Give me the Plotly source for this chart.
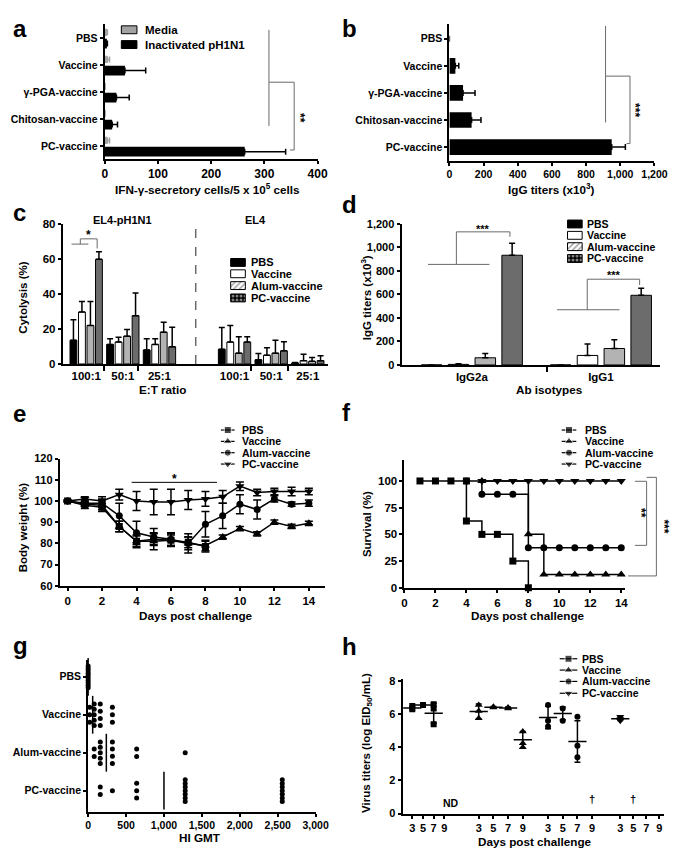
import plotly.graph_objects as go

# The page puts the figure 8 px in from the top-left corner, so every pixel
# position below is given in window pixels and converted with OFF.
OFF = 8
WIN_W, WIN_H = 685, 856
W, H = WIN_W - OFF, WIN_H - OFF
FONT = "Liberation Sans, Arial, sans-serif"
GREY = "#6a6a6a"

# ---------------- data ----------------
# a: IFN-gamma secreting cells
a_groups = ["PBS", "Vaccine", "γ-PGA-vaccine", "Chitosan-vaccine", "PC-vaccine"]
a_media = [4, 5, 0.5, 0.5, 5]
a_media_sd = [1, 4, 0, 0, 4]
a_inact = [4, 38, 22, 14, 263]
a_inact_sd = [1, 39, 24, 10, 77]

# b: IgG titers (x10^3)
b_igg = [0, 35, 80, 130, 950]
b_igg_sd = [0, 20, 70, 55, 80]

# c: cytolysis (%)
c_ratios = ["100:1", "50:1", "25:1", "100:1", "50:1", "25:1"]
c_pbs = [13.6, 11.2, 8.0, 8.4, 2.4, 0.6]
c_pbs_sd = [11.7, 3.2, 6.4, 12.5, 3.6, 0.3]
c_vac = [29.7, 12.5, 11.2, 12.5, 5.0, 1.9]
c_vac_sd = [6.0, 2.8, 3.2, 9.5, 4.3, 3.7]
c_alum = [22.0, 15.9, 18.2, 6.2, 6.2, 1.5]
c_alum_sd = [13.7, 3.8, 5.6, 9.3, 7.3, 2.2]
c_pc = [59.8, 27.6, 9.8, 12.5, 7.5, 1.9]
c_pc_sd = [4.3, 12.9, 11.2, 3.0, 5.2, 2.8]

# d: IgG isotypes (x10^3)
d_isotypes = ["IgG2a", "IgG1"]
d_pbs = [0, 0]
d_pbs_sd = [0, 0]
d_vac = [5, 81]
d_vac_sd = [6, 98]
d_alum = [61, 140]
d_alum_sd = [37, 75]
d_pc = [934, 593]
d_pc_sd = [101, 61]

# e: body weight (%)
e_days = list(range(15))
e_pbs = [100, 98, 97, 88, 81, 82, 81.5, 80.5, 78.5]
e_pbs_sd = [0, 1.5, 2, 2.5, 2.5, 2.5, 2.5, 2.5, 2.5]
e_vac = [100, 98.5, 98, 88, 81, 81, 81.5, 80, 79, 83, 87, 84.5, 90, 88, 89.5]
e_vac_sd = [0, 1, 2, 2.5, 3, 4, 3, 3, 2.5, 1, 1, 1, 1, 1, 1]
e_alum = [100, 99, 99, 93, 85, 83, 82, 80, 89, 93, 98.5, 96, 101, 98.5, 99]
e_alum_sd = [0, 1.5, 2, 6, 5.5, 4, 3, 4.5, 6, 6, 4.5, 4.5, 1.5, 1, 1.5]
e_pc = [100, 101, 100, 103, 100, 99.5, 99.5, 100.5, 101, 102, 107, 104, 104.5, 104.5, 104.5]
e_pc_sd = [0, 1, 2, 2.5, 4.5, 6, 6, 4.5, 3.5, 3, 2, 1.5, 1.5, 2, 1.5]

# f: survival (%)
f_pbs_days = [1, 2, 3, 4, 4, 5, 6, 7, 8]
f_pbs = [100, 100, 100, 100, 62.5, 50, 50, 25, 0]
f_vac_days = [5, 8, 9, 10, 11, 12, 13, 14]
f_vac = [100, 50, 12.5, 12.5, 12.5, 12.5, 12.5, 12.5]
f_alum_days = [4, 5, 6, 7, 8, 9, 10, 11, 12, 13, 14]
f_alum = [100, 87.5, 87.5, 87.5, 37.5, 37.5, 37.5, 37.5, 37.5, 37.5, 37.5]
f_pc_days = [5, 6, 7, 8, 9, 10, 11, 12, 13, 14]
f_pc = [100] * 10

# g: HI titers
g_groups = ["PBS", "Vaccine", "Alum-vaccine", "PC-vaccine"]
g_pbs = [0] * 10
g_vac = [20, 20, 20, 80, 80, 80, 80, 80, 160, 160, 160, 160, 320, 320, 320]
g_alum = [80, 80, 160, 160, 160, 160, 160, 320, 320, 320, 320, 640, 640, 1280]
g_pc = [160, 160, 320, 640, 640, 640] + [1280] * 7 + [2560] * 7
g_gmt = [0, 60, 240, 1000]

# h: lung virus titers (log EID50/mL)
h_days = [3, 5, 7, 9]
h_pbs_day = [3, 3, 5, 7, 7, 7]
h_pbs = [6.5, 6.3, 6.55, 6.6, 6.35, 5.4]
h_pbs_mday = [3, 5, 7]
h_pbs_mean = [6.38, 6.55, 6.06]
h_pbs_sd = [0.12, 0.02, 0.6]
h_vac_day = [3, 3, 3, 5, 5, 7, 7, 9, 9, 9]
h_vac = [6.55, 6.2, 5.75, 6.45, 6.4, 6.4, 6.35, 4.95, 4.25, 4.0]
h_vac_mday = [3, 5, 7, 9]
h_vac_mean = [6.16, 6.42, 6.38, 4.45]
h_vac_sd = [0.45, 0.05, 0.05, 0.5]
h_alum_day = [3, 3, 3, 5, 5, 7, 7, 7]
h_alum = [6.55, 5.6, 5.25, 6.35, 5.6, 5.85, 4.1, 3.4]
h_alum_mday = [3, 5, 7]
h_alum_mean = [5.8, 6.05, 4.35]
h_alum_sd = [0.68, 0.38, 1.25]
h_pc_day = [3, 3, 3]
h_pc = [5.85, 5.7, 5.6]
h_pc_mday = [3]
h_pc_mean = [5.72]
h_pc_sd = [0.1]

# ---------------- layout helpers ----------------
def xdom(x0, x1):
    return [(x0 - OFF) / W, (x1 - OFF) / W]


def ydom(top, bottom):
    return [1 - (bottom - OFF) / H, 1 - (top - OFF) / H]


def font(size):
    return dict(family=FONT, size=size, color="black", weight="bold")


def axis(size=10.5, **kw):
    d = dict(showline=True, linewidth=2, linecolor="black", ticks="outside",
             ticklen=3, tickwidth=2, tickcolor="black", showgrid=False,
             zeroline=False, tickfont=font(size), fixedrange=True)
    d.update(kw)
    return d


fig = go.Figure()
shapes = []
annots = []


def seg(ax, x0, y0, x1, y1, color=GREY, width=1, dash=None):
    shapes.append(dict(type="line", xref="x" + ax, yref="y" + ax, x0=x0, y0=y0,
                       x1=x1, y1=y1, line=dict(color=color, width=width, dash=dash)))


def note(ax, x, y, text, size=11.7, angle=0, **kw):
    annots.append(dict(xref="x" + ax, yref="y" + ax, x=x, y=y, text=text,
                       showarrow=False, font=font(size), textangle=angle, **kw))


def err(arr, color="black"):
    return dict(type="data", array=arr, arrayminus=[0] * len(arr), symmetric=False,
                color=color, thickness=1.5, width=3)


# ---------------- a ----------------
a_pos = list(range(len(a_groups)))
fig.add_trace(go.Bar(x=a_media, y=a_pos, orientation="h", offset=-0.34, width=0.27,
                     marker=dict(color="#a3a3a3", line=dict(width=0)),
                     error_x=err(a_media_sd, "#a3a3a3"), xaxis="x", yaxis="y"))
fig.add_trace(go.Bar(x=a_inact, y=a_pos, orientation="h", offset=0.03, width=0.36,
                     marker=dict(color="black", line=dict(width=0)),
                     error_x=err(a_inact_sd), xaxis="x", yaxis="y"))
seg("", 308.6, -0.3, 308.6, 3.26)
seg("", 308.6, 1.64, 356, 1.64)
seg("", 356, 1.64, 356, 4.15)
seg("", 348, 4.15, 356, 4.15)
note("", 368, 2.95, "**", size=12, angle=90)

# ---------------- b ----------------
fig.add_trace(go.Bar(x=b_igg, y=a_pos, orientation="h", offset=-0.29, width=0.58,
                     marker=dict(color="black", line=dict(width=0)),
                     error_x=err(b_igg_sd), xaxis="x2", yaxis="y2"))
seg("2", 914, -0.47, 914, 3.09)
seg("2", 914, 1.38, 1057, 1.38)
seg("2", 1057, 1.38, 1057, 3.87)
seg("2", 1037, 3.87, 1057, 3.87)
note("2", 1090, 2.62, "***", size=12, angle=90)

# ---------------- c ----------------
c_pos = [0, 1, 2, 4.05, 5.05, 6.05]
c_pitch, c_w = 0.232, 0.187
c_sets = [(c_pbs, c_pbs_sd, "black"), (c_vac, c_vac_sd, "white"),
          (c_alum, c_alum_sd, "#b3b3b3"), (c_pc, c_pc_sd, "#6c6c6c")]
for k, (vals, sd, col) in enumerate(c_sets):
    fig.add_trace(go.Bar(x=c_pos, y=vals, offset=(k - 2) * c_pitch + (c_pitch - c_w) / 2,
                         width=c_w, marker=dict(color=col, line=dict(color="black", width=1)),
                         error_y=err(sd), xaxis="x3", yaxis="y3"))
seg("3", 2.99, 0, 2.99, 80, dash="dash", width=1.5)
seg("3", -0.4, 68.5, 0.06, 68.5)
seg("3", -0.16, 68.5, -0.16, 71.5)
seg("3", -0.16, 71.5, 0.3, 71.5)
seg("3", 0.3, 71.5, 0.3, 66)
note("3", 0.06, 73.5, "*", size=12)
note("3", 1.0, 80, "EL4-pH1N1", size=11, yshift=4)
note("3", 4.62, 80, "EL4", size=11, yshift=4)

# ---------------- d ----------------
d_pos = [0, 1]
d_pitch, d_w = 0.208, 0.159
d_sets = [(d_pbs, d_pbs_sd, "black"), (d_vac, d_vac_sd, "white"),
          (d_alum, d_alum_sd, "#b3b3b3"), (d_pc, d_pc_sd, "#6c6c6c")]
for k, (vals, sd, col) in enumerate(d_sets):
    fig.add_trace(go.Bar(x=d_pos, y=vals, offset=(k - 2) * d_pitch + (d_pitch - d_w) / 2,
                         width=d_w, marker=dict(color=col, line=dict(color="black", width=1)),
                         error_y=err(sd), xaxis="x4", yaxis="y4"))
seg("4", -0.34, 856, 0.136, 856)
seg("4", -0.12, 856, -0.12, 1133)
seg("4", -0.12, 1133, 0.295, 1133)
seg("4", 0.295, 1133, 0.295, 1091)
note("4", 0.09, 1160, "***", size=11)
seg("4", 0.66, 470, 1.144, 470)
seg("4", 0.894, 470, 0.894, 730)
seg("4", 0.894, 730, 1.30, 730)
seg("4", 1.30, 730, 1.30, 680)
note("4", 1.10, 766, "***", size=11)

# ---------------- e ----------------
e_sets = [(e_pbs, e_pbs_sd, "square", 7), (e_vac, e_vac_sd, "triangle-up", 8),
          (e_alum, e_alum_sd, "circle", 7), (e_pc, e_pc_sd, "triangle-down", 8)]
for vals, sd, sym, sz in e_sets:
    fig.add_trace(go.Scatter(x=e_days[:len(vals)], y=vals, mode="lines+markers",
                             line=dict(color="black", width=1.5),
                             marker=dict(symbol=sym, size=sz, color="black"),
                             error_y=dict(type="data", array=sd, color="black",
                                          thickness=1.5, width=4),
                             xaxis="x5", yaxis="y5"))
seg("5", 3.72, 108.8, 8.67, 108.8, color="black")
note("5", 6.18, 110.5, "*", size=12)

# ---------------- f ----------------
f_sets = [(f_pc_days, f_pc, "triangle-down", 8), (f_alum_days, f_alum, "circle", 7),
          (f_vac_days, f_vac, "triangle-up", 8), (f_pbs_days, f_pbs, "square", 7)]
for days, vals, sym, sz in f_sets:
    fig.add_trace(go.Scatter(x=days, y=vals, mode="lines+markers",
                             line=dict(color="black", width=1.5, shape="hv"),
                             marker=dict(symbol=sym, size=sz, color="black"),
                             cliponaxis=False, xaxis="x6", yaxis="y6"))

# ---------------- g ----------------
def stack(vals, center):
    xs, ys = [], []
    for v in sorted(set(vals)):
        n = vals.count(v)
        step = min(0.195, 0.571 / (n - 1)) if n > 1 else 0
        for i in range(n):
            xs.append(v)
            ys.append(center + (i - (n - 1) / 2) * step)
    return xs, ys


for i, vals in enumerate([g_pbs, g_vac, g_alum, g_pc]):
    xs, ys = stack(vals, i)
    fig.add_trace(go.Scatter(x=xs, y=ys, mode="markers", cliponaxis=False,
                             marker=dict(symbol="circle", size=5, color="black"),
                             xaxis="x7", yaxis="y7"))
fig.add_trace(go.Scatter(x=g_gmt, y=list(range(4)), mode="markers", cliponaxis=False,
                         marker=dict(symbol="line-ns", size=27,
                                     line=dict(color="black", width=1.5)),
                         xaxis="x7", yaxis="y7"))

# ---------------- h ----------------
h_start = [0, 4.84, 9.89, 15.15]
h_step = [0.78, 1.07, 1.07, 0.95]


def hx(g, days):
    return [h_start[g] + (d - 3) / 2 * h_step[g] for d in days]


h_sets = [(h_pbs_day, h_pbs, h_pbs_mday, h_pbs_mean, h_pbs_sd, "square", 6),
          (h_vac_day, h_vac, h_vac_mday, h_vac_mean, h_vac_sd, "triangle-up", 7),
          (h_alum_day, h_alum, h_alum_mday, h_alum_mean, h_alum_sd, "circle", 6),
          (h_pc_day, h_pc, h_pc_mday, h_pc_mean, h_pc_sd, "triangle-down", 7)]
for g, (pd_, pv, md, mv, sd, sym, sz) in enumerate(h_sets):
    fig.add_trace(go.Scatter(x=hx(g, pd_), y=pv, mode="markers",
                             marker=dict(symbol=sym, size=sz, color="black"),
                             xaxis="x8", yaxis="y8"))
    fig.add_trace(go.Scatter(x=hx(g, md), y=mv, mode="markers",
                             marker=dict(symbol="line-ew", size=13,
                                         line=dict(color="black", width=1.5)),
                             error_y=dict(type="data", array=sd, color="black",
                                          thickness=1.5, width=3),
                             xaxis="x8", yaxis="y8"))
h_ticks = [x for g in range(4) for x in hx(g, h_days)]
h_ticktext = [str(d) for g in range(4) for d in h_days]
note("8", hx(0, [9])[0] + 0.45, 0.62, "ND", size=10.5)
note("8", hx(2, [9])[0], 0.85, "†", size=11)
note("8", hx(3, [5])[0], 0.85, "†", size=11)

# ---------------- legends and labels (window-pixel canvas) ----------------
def canvas_text(x, y, text, size, angle=0, anchor="left"):
    annots.append(dict(xref="x9", yref="y9", x=x, y=y, text=text, showarrow=False,
                       font=font(size), textangle=angle, xanchor=anchor,
                       yanchor="middle"))


def bar_key(x0, length, y, color, pattern=None):
    m = dict(color=color, line=dict(color="black", width=1))
    if pattern:
        m["pattern"] = pattern
    fig.add_trace(go.Bar(x=[length], y=[y], base=[x0], orientation="h", width=8,
                         offset=-4, marker=m, xaxis="x9", yaxis="y9"))


def line_key(x0, x1, y, sym, sz):
    fig.add_trace(go.Scatter(x=[x0, (x0 + x1) / 2, x1], y=[y, y, y], mode="lines+markers",
                             line=dict(color="black", width=1.2),
                             marker=dict(symbol=sym, size=[0, sz, 0], color="black"),
                             xaxis="x9", yaxis="y9"))


legend_names = ["PBS", "Vaccine", "Alum-vaccine", "PC-vaccine"]
hatch = dict(shape="/", fgcolor="#333333", bgcolor="white", size=4, solidity=0.35)
checker = dict(shape=".", fgcolor="white", bgcolor="black", size=4, solidity=0.45)
key_styles = [("black", None), ("white", None), ("white", hatch), ("black", checker)]

# a legend
bar_key(121, 16, 24, "#a3a3a3")
bar_key(121, 16, 39, "black")
canvas_text(143, 24, "Media", 11.5)
canvas_text(143, 39, "Inactivated pH1N1", 11.5)

# c legend
for y, name, (col, pat) in zip([260, 271.5, 283.5, 296], legend_names, key_styles):
    bar_key(233, 15, y, col, pat)
    canvas_text(252, y, name, 11)

# d legend
for y, name, (col, pat) in zip([221, 232.5, 244, 256], legend_names, key_styles):
    bar_key(578, 15, y, col, pat)
    canvas_text(596, y, name, 10.5)

syms = [("square", 7), ("triangle-up", 8), ("circle", 7), ("triangle-down", 8)]
for rows, x0, x1, tx in [([430, 441.5, 453, 464.5], 223, 237, 243),
                         ([430, 441.5, 453, 464.5], 572, 587, 594),
                         ([662, 673.5, 685, 697], 570, 588, 591)]:
    for y, name, (sym, sz) in zip(rows, legend_names, syms):
        line_key(x0, x1, y, sym, sz)
        canvas_text(tx, y, name, 10.5)

# f significance brackets
for x0, y0, x1, y1 in [(647, 482, 659, 482), (659, 482, 659, 547), (647, 547, 659, 547),
                       (659, 478, 669, 478), (669, 478, 669, 578), (640, 578, 669, 578)]:
    shapes.append(dict(type="line", xref="x9", yref="y9", x0=x0, y0=y0, x1=x1, y1=y1,
                       line=dict(color=GREY, width=1)))
canvas_text(653, 514, "**", 12, angle=90, anchor="center")
canvas_text(677, 528, "***", 12, angle=90, anchor="center")

# panel letters
for letter, x, y in [("a", 8, 23), ("b", 345, 23), ("c", 8, 209), ("d", 345, 201),
                     ("e", 8, 413), ("f", 345, 412), ("g", 8, 649), ("h", 345, 650)]:
    canvas_text(x, y, letter, 24)

# axis titles
canvas_text(209, 185, "IFN-γ-secretory cells/5 x 10<sup>5</sup> cells", 11.7, anchor="center")
canvas_text(562, 185, "IgG titers (x10<sup>3</sup>)", 11.7, anchor="center")
canvas_text(20, 296, "Cytolysis (%)", 11.5, angle=-90, anchor="center")
canvas_text(163, 389, "E:T ratio", 11.7, anchor="center")
canvas_text(372, 296, "IgG titers (x10<sup>3</sup>)", 11.5, angle=-90, anchor="center")
canvas_text(560, 389, "Ab isotypes", 11.7, anchor="center")
canvas_text(20, 529, "Body weight (%)", 11.5, angle=-90, anchor="center")
canvas_text(197, 618, "Days post challenge", 11.7, anchor="center")
canvas_text(372, 525, "Survival (%)", 11.5, angle=-90, anchor="center")
canvas_text(537, 618, "Days post challenge", 11.7, anchor="center")
canvas_text(202, 843, "HI GMT", 11.7, anchor="center")
canvas_text(372, 747, "Virus titers (log EID<sub>50</sub>/mL)", 11.5, angle=-90, anchor="center")
canvas_text(545, 847, "Days post challenge", 11.7, anchor="center")

# ---------------- layout ----------------
fig.update_traces(showlegend=False, hoverinfo="skip")
fig.update_layout(
    width=W, height=H, margin=dict(l=0, r=0, t=0, b=0),
    paper_bgcolor="white", plot_bgcolor="rgba(0,0,0,0)",
    font=font(10.5), showlegend=False, barmode="group",
    shapes=shapes, annotations=annots,
    xaxis=axis(12, domain=xdom(104, 322), anchor="y", range=[0, 400], dtick=100),
    yaxis=axis(10.5, domain=ydom(18, 155), anchor="x", range=[4.48, -0.52],
               tickvals=a_pos, ticktext=a_groups),
    xaxis2=axis(10.5, domain=xdom(457, 667), anchor="y2", range=[0, 1200], dtick=200,
                tickformat=","),
    yaxis2=axis(10.5, domain=ydom(18, 157), anchor="x2", range=[4.51, -0.55],
                tickvals=a_pos, ticktext=a_groups),
    xaxis3=axis(11.5, domain=xdom(61, 333), anchor="y3", range=[-0.64, 6.61],
                tickvals=c_pos, ticktext=c_ratios, ticks="",
                minor=dict(tickvals=[0.48, 1.41, 4.5, 5.5], ticks="outside",
                           ticklen=5, tickwidth=1.5, tickcolor="black")),
    yaxis3=axis(11.5, domain=ydom(221, 363), anchor="x3", range=[0, 80], dtick=20),
    xaxis4=axis(11.5, domain=xdom(408, 673), anchor="y4", range=[-0.545, 1.46],
                tickvals=d_pos, ticktext=d_isotypes, ticks="",
                minor=dict(tickvals=[0.583], ticks="outside", ticklen=5,
                           tickwidth=1.5, tickcolor="black")),
    yaxis4=axis(11, domain=ydom(221, 364), anchor="x4", range=[0, 1200], dtick=200,
                tickformat=","),
    xaxis5=axis(11.5, domain=xdom(58, 330), anchor="y5", range=[-0.45, 14.96], dtick=2,
                tick0=0),
    yaxis5=axis(11, domain=ydom(459, 588), anchor="x5", range=[60, 120], dtick=10),
    xaxis6=axis(11.5, domain=xdom(411, 637), anchor="y6", range=[0, 14.25], dtick=2,
                tick0=0),
    yaxis6=axis(11.5, domain=ydom(460, 590), anchor="x6", range=[0, 120],
                tickvals=[0, 25, 50, 75, 100]),
    xaxis7=axis(10.5, domain=xdom(87, 320), anchor="y7", range=[0, 3000], dtick=500,
                tickformat=","),
    yaxis7=axis(10.5, domain=ydom(663, 817), anchor="x7", range=[3.55, -0.45],
                tickvals=list(range(4)), ticktext=g_groups),
    xaxis8=axis(11, domain=xdom(409, 677), anchor="y8", range=[-0.71, 18.35],
                tickvals=h_ticks, ticktext=h_ticktext),
    yaxis8=axis(11, domain=ydom(683, 819), anchor="x8", range=[0, 8.1], dtick=2),
    xaxis9=dict(domain=[0, 1], anchor="y9", range=[OFF, WIN_W], visible=False,
                fixedrange=True),
    yaxis9=dict(domain=[0, 1], anchor="x9", range=[WIN_H, OFF], visible=False,
                fixedrange=True),
)

fig.write_html("out.html")
